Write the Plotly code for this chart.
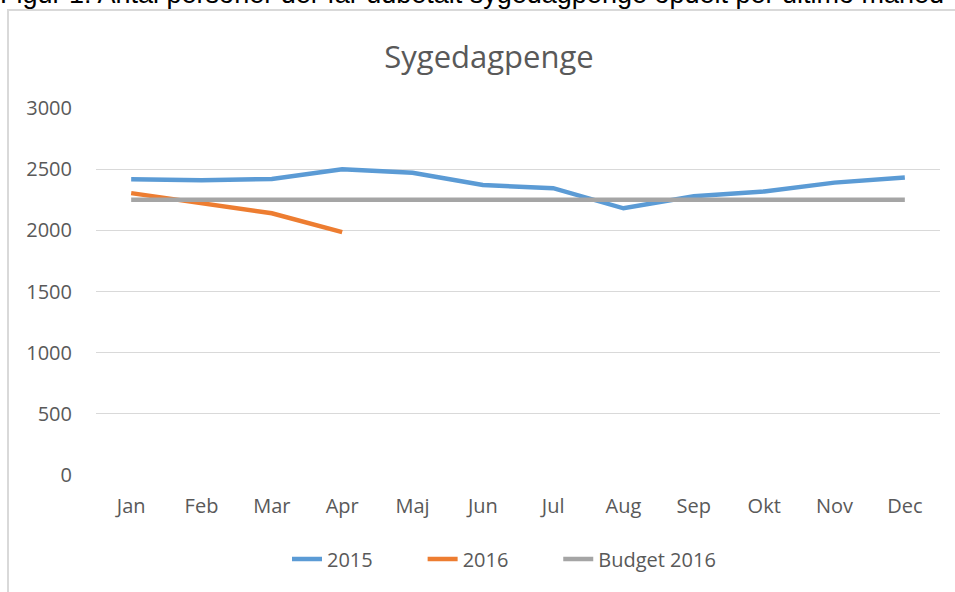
import plotly.graph_objects as go

months = ["Jan", "Feb", "Mar", "Apr", "Maj", "Jun", "Jul", "Aug", "Sep", "Okt", "Nov", "Dec"]
y2015 = [2418, 2410, 2420, 2500, 2470, 2370, 2345, 2180, 2278, 2318, 2390, 2432]
y2016 = [2304, 2225, 2140, 1985]
budget2016 = [2250] * 12
series_names = ["2015", "2016", "Budget 2016"]

W, H = 955, 592
L, R, T, B = 96, 955 - 940, 108, 592 - 475
pw, ph = W - L - R, H - T - B

def px(x):  # page pixel -> paper x
    return (x - L) / pw

def py(y):  # page pixel -> paper y
    return (H - B - y) / ph

PAD = "\u00a0" * 8 + "\u2009"

fig = go.Figure()
fig.add_trace(go.Scatter(x=months, y=y2015, name=series_names[0] + PAD, mode="lines",
                         line=dict(color="#5B9BD5", width=4.5)))
fig.add_trace(go.Scatter(x=months[:len(y2016)], y=y2016, name=series_names[1] + PAD, mode="lines",
                         line=dict(color="#ED7D31", width=4.5)))
fig.add_trace(go.Scatter(x=months, y=budget2016, name=series_names[2], mode="lines",
                         line=dict(color="#A5A5A5", width=4.5)))

font_fam = "Open Sans, Noto Sans, sans-serif"

fig.update_layout(
    width=W, height=H,
    margin=dict(l=L, r=R, t=T, b=B),
    paper_bgcolor="white", plot_bgcolor="white",
    showlegend=True,
    legend=dict(orientation="h", x=px(287), xanchor="left", y=py(559), yanchor="middle",
                font=dict(family=font_fam, size=20, color="#595959"),
                traceorder="normal"),
    title=dict(text="Sygedagpenge", x=px(489), xanchor="center", xref="paper",
               y=(H - 57) / H, yanchor="middle",
               font=dict(family=font_fam, size=31, color="#595959")),
    xaxis=dict(type="category", categoryorder="array", categoryarray=months,
               range=[-0.5, 11.5], showgrid=False, zeroline=False, showline=False,
               ticks="", tickfont=dict(family=font_fam, size=20, color="#595959"),
               ticklabelstandoff=17),
    yaxis=dict(range=[0, 3000], dtick=500, showgrid=True, gridcolor="#D9D9D9", gridwidth=1.3,
               zeroline=False, showline=False, ticks="",
               tickfont=dict(family=font_fam, size=20, color="#595959"),
               ticklabelstandoff=23),
    shapes=[dict(type="rect", xref="paper", yref="paper",
                 x0=px(8), x1=px(1000), y0=py(10), y1=py(650),
                 line=dict(color="#D9D9D9", width=2), fillcolor="rgba(0,0,0,0)", layer="below")],
    annotations=[dict(text="Figur 1: Antal personer der får udbetalt sygedagpenge opdelt per ultimo måned",
                      xref="paper", yref="paper", x=px(-2), xanchor="left",
                      y=py(11), yanchor="bottom", showarrow=False,
                      font=dict(family="Liberation Sans, Arial, sans-serif", size=27, color="#000000"))],
)

fig.write_html("out.html", config={"displayModeBar": False},
               post_script="document.body.style.margin='0';")
